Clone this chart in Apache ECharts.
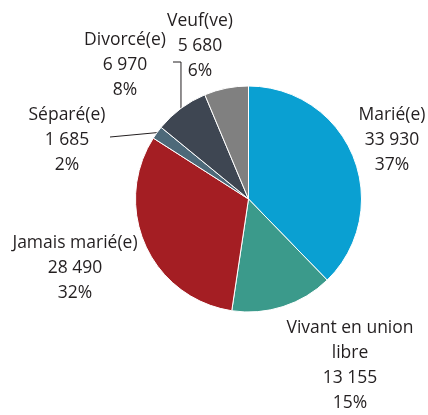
<!DOCTYPE html>
<html><head><meta charset="utf-8">
<script src="https://cdn.jsdelivr.net/npm/echarts@6/dist/echarts.min.js"></script>
<style>html,body{margin:0;padding:0;background:#fff}#c{width:428px;height:415px}</style>
</head><body><div id="c"></div>
<script>
const categories = ['Marié(e)', 'Vivant en union\nlibre', 'Jamais marié(e)', 'Séparé(e)', 'Divorcé(e)', 'Veuf(ve)'];
const values = [33930, 13155, 28490, 1685, 6970, 5680];
const valueLabels = ['33 930', '13 155', '28 490', '1 685', '6 970', '5 680'];
const percentLabels = ['37%', '15%', '32%', '2%', '8%', '6%'];
const colors = ['#0aa0d2', '#3b9a8b', '#a41e23', '#4d6979', '#3e4652', '#808080'];

// label anchor (center x, top y) - layout only
const labelPos = [[392, 103], [350, 316], [75, 231], [67, 103], [125, 28], [200, 9]];
const withLine = [false, false, false, true, true, false];

const data = categories.map((c, i) => ({
  name: c, value: values[i],
  itemStyle: { color: colors[i] },
  label: { formatter: c + '\n' + valueLabels[i] + '\n' + percentLabels[i] },
  labelLine: { show: withLine[i] }
}));

const chart = echarts.init(document.getElementById('c'), null, { renderer: 'canvas' });
chart.setOption({
  animation: false,
  series: [{
    type: 'pie',
    center: [248.5, 199],
    radius: [0, 113],
    startAngle: 90,
    clockwise: true,
    data: data,
    itemStyle: { borderColor: '#fff', borderWidth: 1 },
    label: {
      show: true, position: 'outside', overflow: 'none',
      fontFamily: 'Open Sans', fontSize: 17.5, lineHeight: 25,
      color: '#231f20', align: 'center'
    },
    labelLine: { show: true, length: 10, length2: 10, lineStyle: { color: '#231f20', width: 1 } },
    labelLayout: function (p) {
      const i = p.dataIndex;
      const w = p.labelRect.width, h = p.labelRect.height;
      const cx = labelPos[i][0], top = labelPos[i][1];
      const res = { x: cx, y: top + h / 2, align: 'center', verticalAlign: 'middle' };
      if (withLine[i] && p.labelLinePoints) {
        const a = p.labelLinePoints[0];
        if (i === 3) {
          const end = [110, top + 34];
          res.labelLinePoints = [a, end, end];
        } else {
          const y = top + 34;
          res.labelLinePoints = [a, [a[0], y], [173, y]];
        }
      }
      return res;
    }
  }]
});
</script></body></html>
